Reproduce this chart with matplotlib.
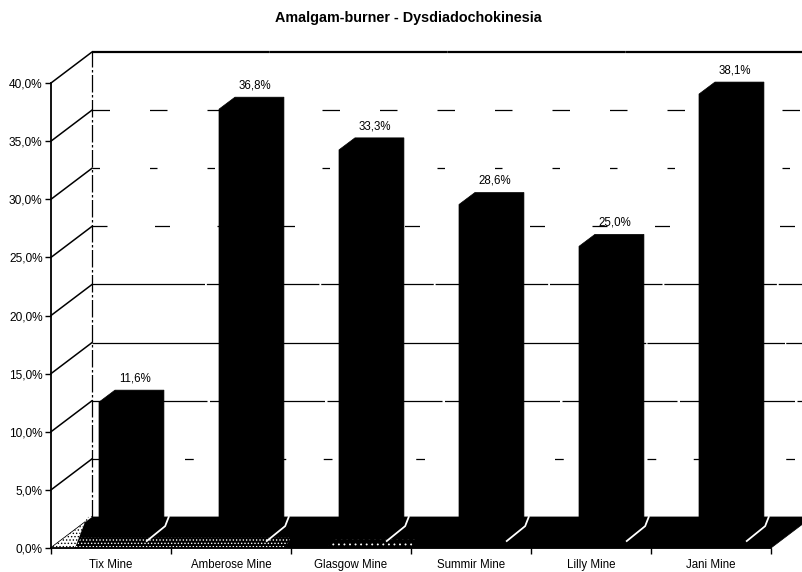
import numpy as np
import matplotlib
matplotlib.use('Agg')
import matplotlib.pyplot as plt
from matplotlib.patches import Polygon

plt.rcParams['font.family'] = ['Liberation Sans', 'DejaVu Sans']
plt.rcParams['hatch.linewidth'] = 0.6

mines = ['Tix Mine', 'Amberose Mine', 'Glasgow Mine', 'Summir Mine', 'Lilly Mine', 'Jani Mine']
values = [11.6, 36.8, 33.3, 28.6, 25.0, 38.1]
labels = ['11,6%', '36,8%', '33,3%', '28,6%', '25,0%', '38,1%']
levels = [0, 5, 10, 15, 20, 25, 30, 35, 40]

# 3d look, all in data units
depth_x = 0.342
depth_y = 2.67
bar_left = 0.28
bar_w = 0.408
bar_dx = 0.133
bar_dy = 1.03
base_dx = 0.12
base_dy = 0.95

fig = plt.figure(figsize=(8.03, 5.72), dpi=100)
ax = fig.add_axes([51 / 803, 24 / 572, 720 / 803, 465 / 572])
ax.set_xlim(0, 6)
ax.set_ylim(0, 40)
ax.patch.set_visible(False)
for s in ['top', 'right']:
    ax.spines[s].set_visible(False)
ax.spines['left'].set_linewidth(1.3)
ax.spines['bottom'].set_linewidth(1.3)

ax.set_yticks(levels)
ax.set_yticklabels(['%d,0%%' % v for v in levels], fontsize=8.6)
ax.set_xticks(range(7))
ax.set_xticklabels([])
ax.tick_params(axis='both', length=4, width=1, pad=2)
for i, m in enumerate(mines):
    ax.text(i + 0.5, -1.5, m, ha='center', va='center', fontsize=8.3)

# walls: diagonals on the left, broken grid lines on the back
dashes = {5: (7, 30), 10: (45, 2), 15: (110, 1), 20: (90, 1.5), 25: (12, 38),
          30: (6, 40), 35: (14, 32), 40: (80, 0.1)}
for v in levels:
    ax.plot([0, depth_x], [v, v + depth_y], color='black', lw=1.1, clip_on=False)
    if v > 0:
        ax.plot([depth_x, 6.3], [v + depth_y] * 2, color='black', clip_on=False,
                lw=1.6 if v == 40 else 0.9, dashes=dashes[v])
ax.plot([depth_x, depth_x], [depth_y, 40 + depth_y], color='black', lw=0.9,
        dashes=(14, 2, 2, 2), clip_on=False)

# floor, speckled towards the left like the scan
floor = Polygon([(0, 0), (6, 0), (6 + depth_x, depth_y), (depth_x, depth_y)],
                fc='black', ec='black', lw=0.5, clip_on=False, zorder=2)
ax.add_patch(floor)
ax.add_patch(Polygon([(0, 0), (0.2, 0), (0.3, depth_y), (depth_x, depth_y)], fc='white', ec='black',
                     hatch='.....', lw=0, zorder=2.1, clip_on=False))
ax.add_patch(Polygon([(0.2, 0), (1.95, 0), (2.0, 0.9), (0.25, 0.9)], fc='black', ec='white',
                     hatch='.....', lw=0, zorder=2.2))
ax.add_patch(Polygon([(2.3, 0), (3.0, 0), (3.05, 0.7), (2.35, 0.7)], fc='black', ec='white',
                     hatch='...', lw=0, zorder=2.2))

# bars
for i, v in enumerate(values):
    x0 = i + bar_left + base_dx
    x1 = x0 + bar_w
    y0 = base_dy
    y1 = base_dy + v
    shape = [(x0, y0), (x1, y0), (x1 + bar_dx, y0 + bar_dy), (x1 + bar_dx, y1 + bar_dy),
             (x0 + bar_dx, y1 + bar_dy), (x0, y1)]
    ax.add_patch(Polygon(shape, fc='black', ec='black', lw=0.5, zorder=3, clip_on=False))
    ax.plot([x1 - 0.01, x1 + bar_dx + 0.01, x1 + bar_dx + 0.04],
            [y0 - 0.35, y0 + bar_dy - 0.1, depth_y], color='white', lw=1.3, zorder=2.5)
    ax.text(x0 + (bar_w + bar_dx) / 2 + 0.03, y1 + bar_dy + 0.5, labels[i], ha='center', va='bottom',
            fontsize=8.3, zorder=4, clip_on=False)

fig.text(408 / 803, 1 - 18 / 572, 'Amalgam-burner - Dysdiadochokinesia', ha='center', va='center',
         fontsize=10.4, fontweight='bold')

fig.savefig('out.png', dpi=100)
